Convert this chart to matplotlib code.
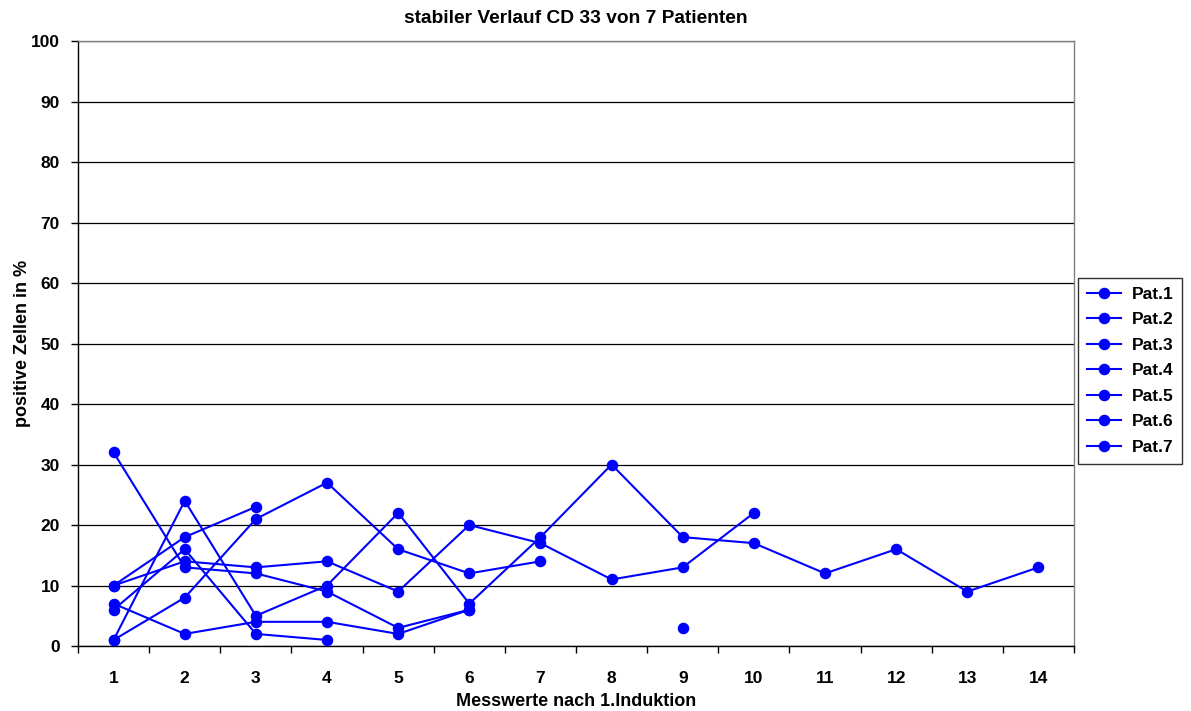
#!/usr/bin/env python3

import matplotlib
matplotlib.use("Agg")
import matplotlib.pyplot as plt
import numpy as np

nan = np.nan

# measurement index (x categories)
messwerte = list(range(1, 15))

pat1 = [32, 13, 12, 9, 3, 6, nan, nan, nan, nan, nan, nan, nan, nan]
pat2 = [10, 18, 23, nan, nan, nan, nan, nan, nan, nan, nan, nan, nan, nan]
pat3 = [10, 14, 13, 14, 9, 20, 17, 11, 13, 22, nan, nan, nan, nan]
pat4 = [7, 2, 4, 4, 2, 6, nan, nan, nan, nan, nan, nan, nan, nan]
pat5 = [6, 16, 2, 1, nan, nan, nan, nan, 3, nan, nan, nan, nan, nan]
pat6 = [1, 24, 5, 10, 22, 7, 18, 30, 18, 17, 12, 16, 9, 13]
pat7 = [1, 8, 21, 27, 16, 12, 14, nan, nan, nan, nan, nan, nan, nan]

series = [pat1, pat2, pat3, pat4, pat5, pat6, pat7]
names = ["Pat.1", "Pat.2", "Pat.3", "Pat.4", "Pat.5", "Pat.6", "Pat.7"]

plt.rcParams['font.family'] = ['Liberation Sans', 'DejaVu Sans']
FS = 12.5

fig = plt.figure(figsize=(11.91, 7.11), dpi=100)
ax = fig.add_axes([0.0655, 0.0914, 0.9018 - 0.0655, 0.9423 - 0.0914])

for name, vals in zip(names, series):
    ax.plot(messwerte, vals, color='#0000ff', marker='o', markersize=7.3,
            linewidth=1.5, label=name, zorder=4, clip_on=False)

ax.set_xlim(0.5, 14.5)
ax.set_ylim(0, 100)

# y axis
yticks = np.arange(0, 101, 10)
ax.set_yticks(yticks)
ax.set_yticklabels(["%d" % y for y in yticks], fontsize=FS, fontweight='bold')
ax.yaxis.grid(True, color='#000000', linewidth=0.9, zorder=0)
ax.tick_params(axis='y', direction='out', length=5, width=1, pad=8)

# x axis: ticks between categories, labels centred
ax.set_xticks(np.arange(0.5, 15, 1))
ax.set_xticklabels([])
ax.set_xticks(messwerte, minor=True)
ax.set_xticklabels([str(m) for m in messwerte], minor=True, fontsize=FS, fontweight='bold')
ax.tick_params(axis='x', which='major', direction='out', length=5, width=1)
ax.tick_params(axis='x', which='minor', length=0, pad=18)

for side in ['left', 'bottom']:
    ax.spines[side].set_color('#000000')
    ax.spines[side].set_linewidth(1)
for side in ['top', 'right']:
    ax.spines[side].set_color('#808080')
    ax.spines[side].set_linewidth(1)

ax.set_title("stabiler Verlauf CD 33 von 7 Patienten", fontsize=13.8,
             fontweight='bold', pad=13)
ax.set_ylabel("positive Zellen in %", fontsize=13, fontweight='bold')
ax.yaxis.set_label_coords(-0.047, 0.5)
ax.set_xlabel("Messwerte nach 1.Induktion", fontsize=13, fontweight='bold', labelpad=5)

leg = ax.legend(loc='center left', bbox_to_anchor=(1.004, 0.455), frameon=True,
                fancybox=False, edgecolor='#000000',
                prop={'weight': 'bold', 'size': FS}, handlelength=2.0,
                borderpad=0.5, labelspacing=0.6, handletextpad=0.6,
                borderaxespad=0)
leg.get_frame().set_linewidth(1)

fig.savefig("out.png", dpi=100)
